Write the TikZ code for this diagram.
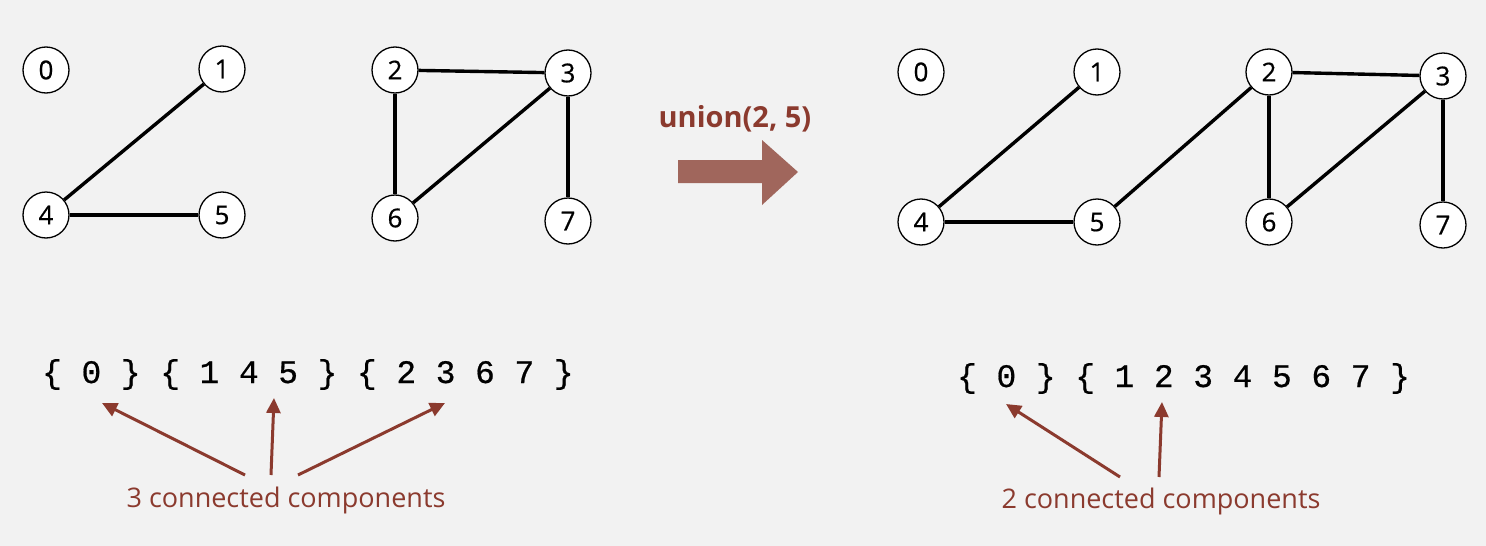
\documentclass[tikz,border=0pt]{standalone}
\usepackage{fontspec}
\setmainfont{Open Sans}
\newfontfamily\monofnt[FakeBold=0.6]{Liberation Mono}
\newfontfamily\vtxfnt[FakeBold=0.6]{Open Sans}
\usetikzlibrary{arrows.meta}
\definecolor{bg}{HTML}{F2F2F2}
\definecolor{darkred}{HTML}{8B3A2E}
\definecolor{bigarrow}{HTML}{A0665C}
\tikzset{
  vtx/.style={circle, draw=black, fill=white, line width=1.3pt, minimum size=46pt, inner sep=0pt, font=\vtxfnt\fontsize{26}{26}\selectfont},
  edge/.style={line width=3.4pt, black},
  setlbl/.style={anchor=base west, inner sep=0pt, font=\monofnt\fontsize{32.8}{33}\selectfont},
  cclbl/.style={anchor=base, inner sep=0pt, text=darkred, font=\fontsize{27}{27}\selectfont},
  ptr/.style={line width=3pt, darkred, -{Triangle[length=15pt,width=14pt]}}
}
\begin{document}
\begin{tikzpicture}[x=1pt,y=-1pt]
\fill[bg] (0,0) rectangle (1486,546);
\useasboundingbox (0,0) rectangle (1486,546);
% left graph
\node[vtx] (a0) at (46,70) {0};
\node[vtx] (a1) at (222,69) {1};
\node[vtx] (a4) at (46,215) {4};
\node[vtx] (a5) at (222,215) {5};
\node[vtx] (a2) at (395,70) {2};
\node[vtx] (a3) at (568,73) {3};
\node[vtx] (a6) at (395,218) {6};
\node[vtx] (a7) at (568,221) {7};
\draw[edge] (a1) -- (a4);
\draw[edge] (a4) -- (a5);
\draw[edge] (a2) -- (a3);
\draw[edge] (a2) -- (a6);
\draw[edge] (a3) -- (a6);
\draw[edge] (a3) -- (a7);
% right graph
\node[vtx] (b0) at (921,72) {0};
\node[vtx] (b1) at (1097,72) {1};
\node[vtx] (b4) at (921,222) {4};
\node[vtx] (b5) at (1097,222) {5};
\node[vtx] (b2) at (1269,72) {2};
\node[vtx] (b3) at (1443,76) {3};
\node[vtx] (b6) at (1269,222) {6};
\node[vtx] (b7) at (1443,225) {7};
\draw[edge] (b1) -- (b4);
\draw[edge] (b4) -- (b5);
\draw[edge] (b5) -- (b2);
\draw[edge] (b2) -- (b3);
\draw[edge] (b2) -- (b6);
\draw[edge] (b3) -- (b6);
\draw[edge] (b3) -- (b7);
% union arrow
\node[anchor=base, inner sep=0pt, text=darkred, font=\bfseries\fontsize{29}{29}\selectfont] (un) at (735,127) {union(2, 5)};
\fill[bigarrow] (678,160) -- (762,160) -- (762,140) -- (798,172) -- (762,205) -- (762,183) -- (678,183) -- cycle;
% sets
\node[setlbl] (s1) at (42,383) {\{ 0 \} \{ 1 4 5 \} \{ 2 3 6 7 \}};
\node[setlbl] (s2) at (957,387) {\{ 0 \} \{ 1 2 3 4 5 6 7 \}};
% labels
\node[cclbl] (c1) at (286,507) {3 connected components};
\node[cclbl] (c2) at (1161,508) {2 connected components};
\coordinate (p1s) at (245,475); \coordinate (p1t) at (102,403);
\coordinate (p2s) at (271,475); \coordinate (p2t) at (274,398);
\coordinate (p3s) at (298,475); \coordinate (p3t) at (445,403);
\coordinate (q1s) at (1120,477); \coordinate (q1t) at (1006,404);
\coordinate (q2s) at (1159,477); \coordinate (q2t) at (1162,402);
\draw[ptr] (p1s) -- (p1t);
\draw[ptr] (p2s) -- (p2t);
\draw[ptr] (p3s) -- (p3t);
\draw[ptr] (q1s) -- (q1t);
\draw[ptr] (q2s) -- (q2t);
\end{tikzpicture}
\end{document}
